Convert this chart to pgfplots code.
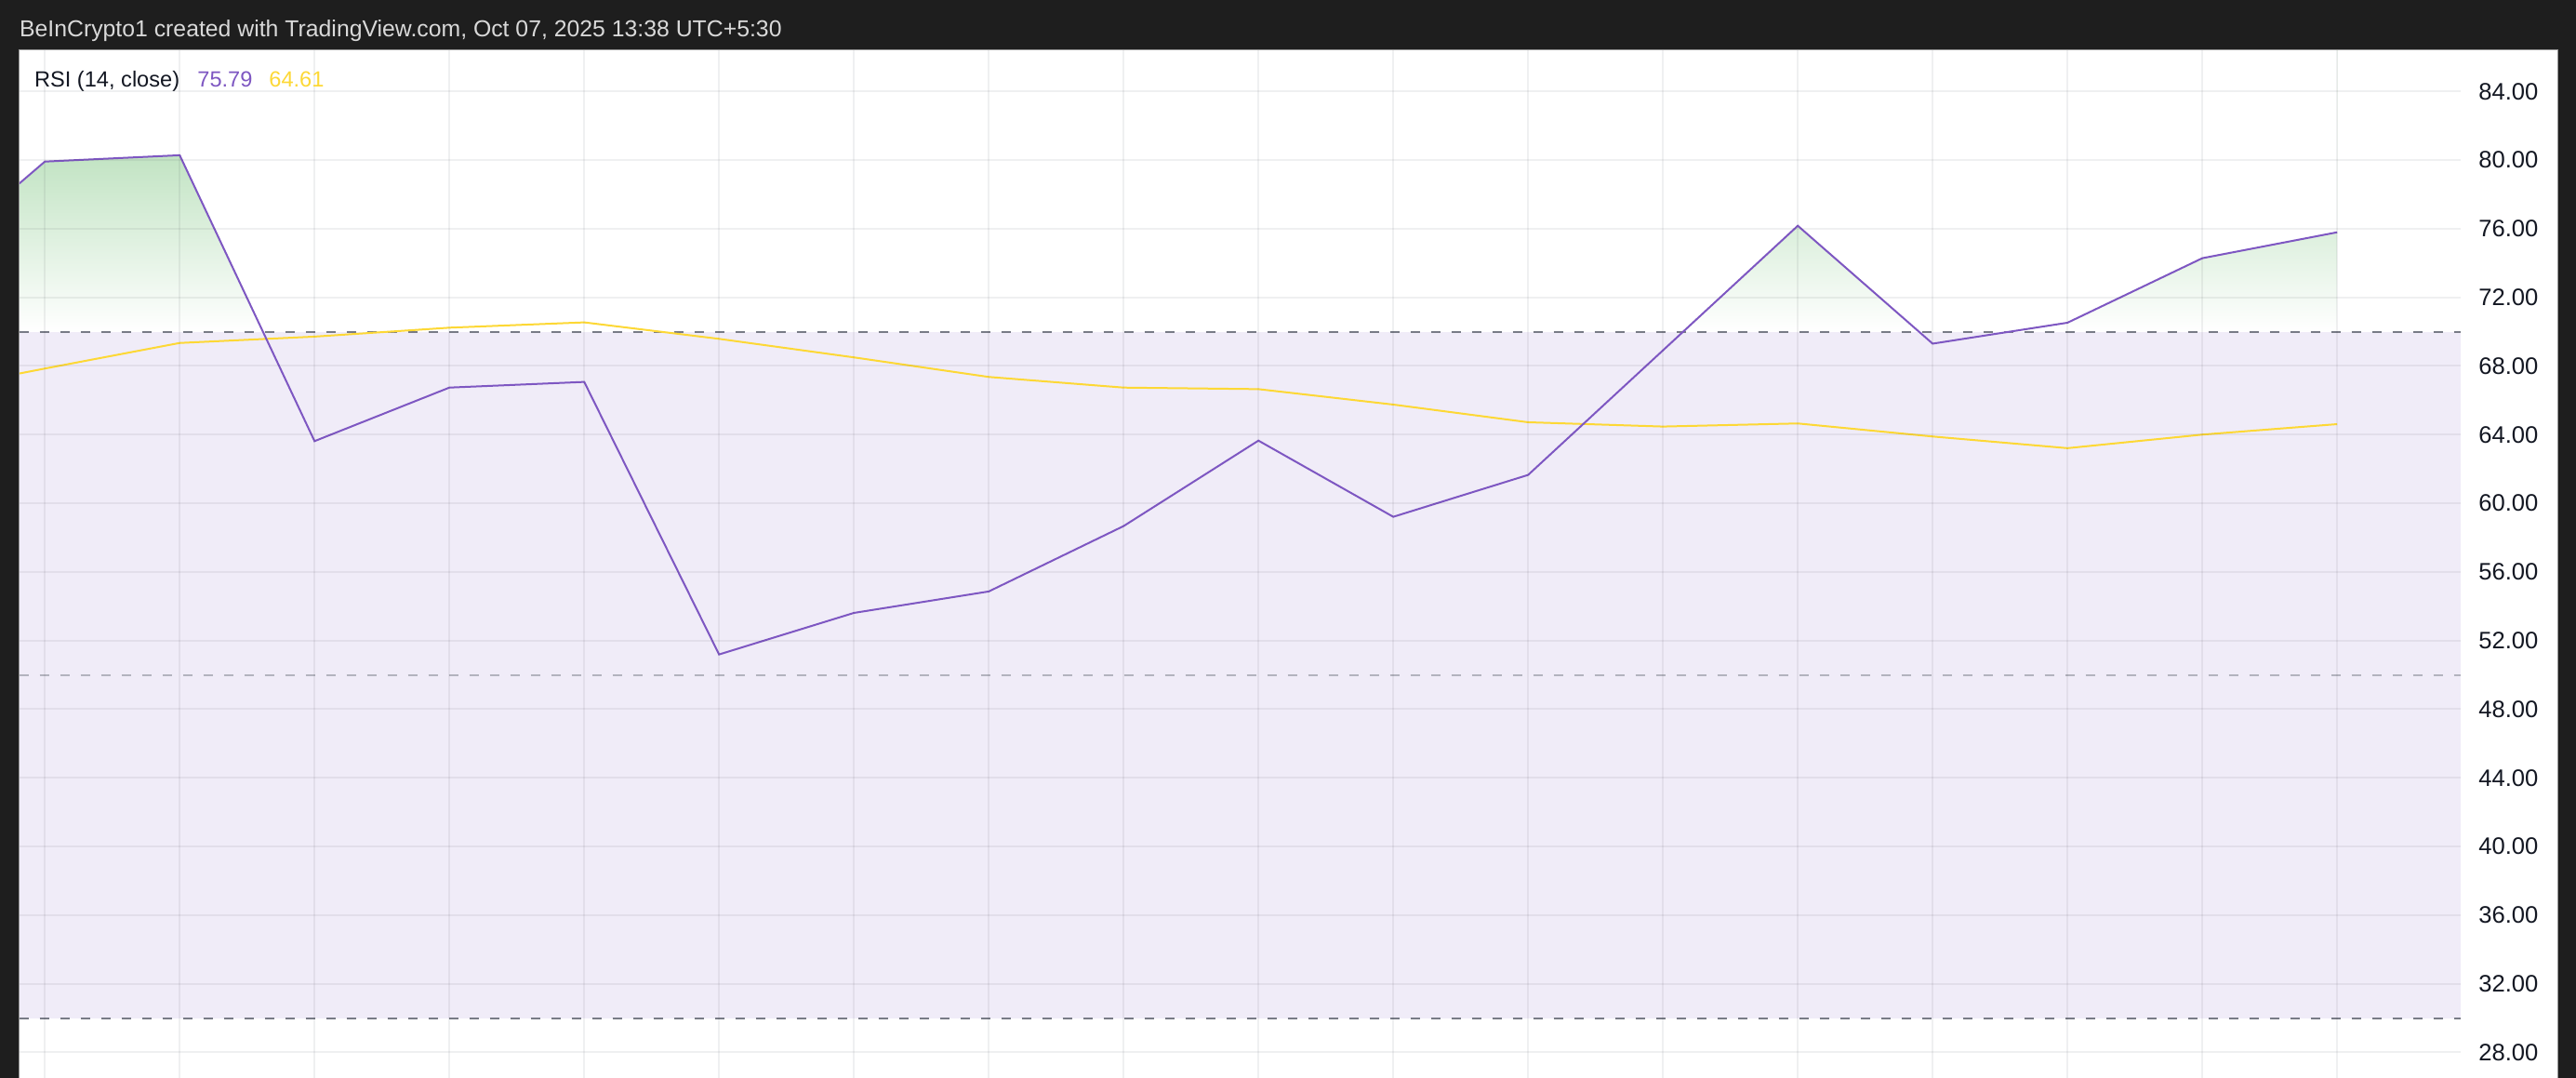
\documentclass[border=0pt]{standalone}
\usepackage{pgfplots}
\pgfplotsset{compat=1.18}
\usepackage{pgfplotstable}
\usepackage{fontspec}
\setmainfont{Liberation Sans}

\definecolor{frame}{HTML}{1E1E1E}
\definecolor{rsi}{HTML}{7E57C2}
\definecolor{ma}{HTML}{FDD835}
\definecolor{band}{HTML}{F0ECF8}
\definecolor{hl}{HTML}{787B86}
\definecolor{obgreen}{HTML}{4CAF50}
\definecolor{gridc}{HTML}{2A2E39}
\definecolor{txt}{HTML}{131722}
\definecolor{hdr}{HTML}{D9D9D9}

% RSI (14, close), one value per bar
\pgfplotstableread{
x      y
-0.19  78.63
0      79.91
1      80.28
2      63.62
3      66.74
4      67.07
5      51.19
6      53.61
7      54.86
8      58.67
9      63.65
10     59.21
11     61.65
12     68.91
13     76.17
14     69.30
15     70.52
16     74.28
17     75.79
}\rsidata

% RSI-based moving average
\pgfplotstableread{
x      y
-0.19  67.56
0      67.85
1      69.34
2      69.71
3      70.23
4      70.54
5      69.58
6      68.50
7      67.36
8      66.74
9      66.65
10     65.75
11     64.72
12     64.47
13     64.65
14     63.89
15     63.21
16     64.00
17     64.61
}\madata

\begin{document}
\begin{tikzpicture}
\fill[frame] (0pt,0pt) rectangle (1385pt,579.5pt);
\fill[white] (10.35pt,0pt) rectangle (1375pt,552.5pt);
\begin{axis}[
    at={(10.35pt,0pt)}, anchor=south west,
    scale only axis,
    width=1312.65pt, height=552.5pt,
    xmin=-0.19, xmax=17.916,
    ymin=26.51, ymax=86.4,
    axis on top,
    axis line style={draw=none},
    xtick={0,...,17}, xticklabels={},
    ytick={28,32,...,84},
    yticklabel pos=right,
    major tick length=0pt,
    grid=major,
    grid style={gridc, opacity=0.07, line width=1pt},
    /pgf/number format/assume math mode=true,
    yticklabel style={/pgf/number format/fixed, /pgf/number format/fixed zerofill,
        /pgf/number format/precision=2, font=\fontsize{12.8}{15}\selectfont,
        text=txt, anchor=west, inner sep=0pt, xshift=9.5pt},
]
    % overbought gradient, masked above the RSI line
    \addplot[draw=none, top color=obgreen, bottom color=white]
        coordinates {(-0.19,70) (17,70) (17,100) (-0.19,100)} -- cycle;
    \addplot[draw=none, fill=white] table[x=x, y=y] {\rsidata}
        -- (axis cs:17,95) -- (axis cs:-0.19,95) -- cycle;
    % 30-70 band
    \addplot[draw=none, fill=band]
        coordinates {(-0.19,30) (17.916,30) (17.916,70) (-0.19,70)} -- cycle;
    % levels
    \addplot[hl, line width=1pt, dash pattern=on 5pt off 6pt] coordinates {(-0.19,70) (17.916,70)};
    \addplot[hl, line width=1pt, dash pattern=on 5pt off 6pt] coordinates {(-0.19,30) (17.916,30)};
    \addplot[hl, opacity=0.5, line width=1pt, dash pattern=on 5pt off 6pt] coordinates {(-0.19,50) (17.916,50)};
    % series
    \addplot[ma, line width=1pt] table[x=x, y=y] {\madata};
    \addplot[rsi, line width=1pt] table[x=x, y=y] {\rsidata};
\end{axis}
\node[anchor=base west, inner sep=0pt, text=hdr, font=\fontsize{12.4}{14}\selectfont]
    at (10.35pt,559.5pt) {BeInCrypto1 created with TradingView.com, Oct 07, 2025 13:38 UTC+5:30};
\node[anchor=base west, inner sep=0pt, text=txt, font=\fontsize{11.8}{14}\selectfont]
    at (18.35pt,532.85pt) {RSI (14, close)};
\node[anchor=base west, inner sep=0pt, text=rsi, font=\fontsize{11.8}{14}\selectfont]
    at (106pt,532.85pt) {75.79};
\node[anchor=base west, inner sep=0pt, text=ma, font=\fontsize{11.8}{14}\selectfont]
    at (144.5pt,532.85pt) {64.61};
\draw[gray!85, line width=0.5pt] (10.35pt,-1pt) -- (10.35pt,552.5pt) -- (1375pt,552.5pt) -- (1375pt,-1pt);
\pgfresetboundingbox
\useasboundingbox (0pt,0pt) rectangle (1385pt,579.5pt);
\end{tikzpicture}
\end{document}
